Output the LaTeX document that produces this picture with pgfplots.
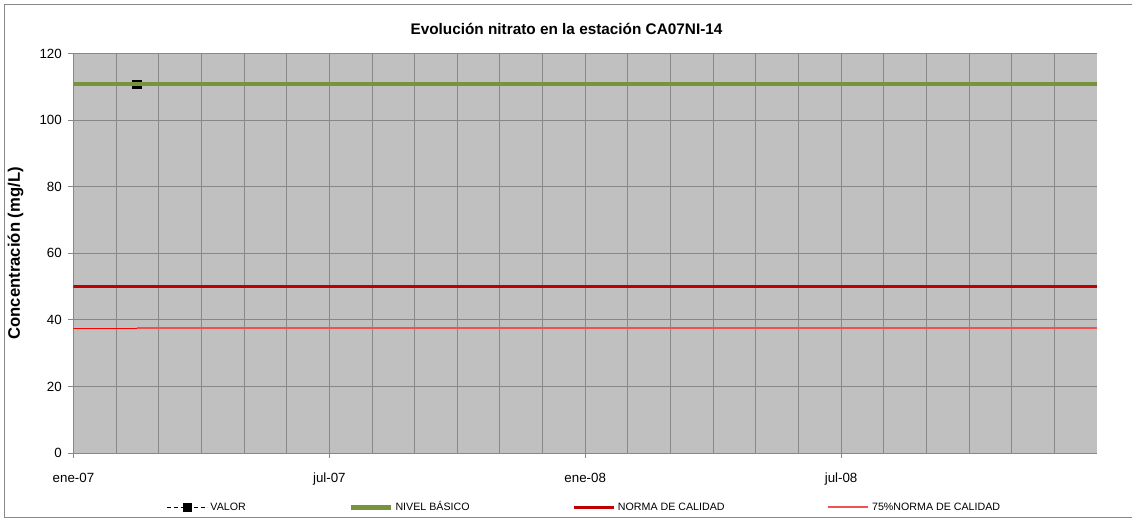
\documentclass[border=0pt]{standalone}
\usepackage{pgfplots}
\pgfplotsset{compat=1.18}
\usepackage{fontspec}
\setmainfont{Liberation Sans}

\definecolor{fondo}{HTML}{C0C0C0}
\definecolor{rejilla}{HTML}{888888}
\definecolor{verde}{HTML}{77933C}
\definecolor{rojo}{HTML}{C00000}
\definecolor{rojoclaro}{HTML}{F05050}

\begin{document}
\begin{tikzpicture}
\begin{axis}[
    name=ax,
    scale only axis,
    width=767.6pt, height=299.5pt,
    xmin=0, xmax=24, ymin=0, ymax=120,
    axis background/.style={fill=fondo},
    axis x line*=bottom, axis y line*=left,
    axis line style={rejilla, line width=0.75pt},
    xtick={0,6,12,18},
    xticklabels={ene-07,jul-07,ene-08,jul-08},
    minor xtick={1,...,23},
    ytick={0,20,...,120},
    grid=both,
    major grid style={rejilla, line width=0.75pt},
    minor grid style={rejilla, line width=0.75pt},
    tick align=outside,
    major tick length=3.75pt, minor tick length=0pt,
    tick style={rejilla, line width=0.75pt},
    tick label style={font=\fontsize{10}{12}\selectfont},
    /pgf/number format/assume math mode=true,
    xticklabel style={yshift=-7.5pt},
    yticklabel style={xshift=-1.5pt},
    clip marker paths=true,
    legend columns=4,
    legend style={at={(0.4995,0)}, anchor=center, yshift=-40.8pt,
        draw=none, fill=none, inner sep=0pt,
        font=\fontsize{8}{10}\selectfont,
        nodes={text height=6pt, text depth=1.5pt},
        /tikz/every even column/.append style={column sep=75pt}},
    legend cell align=left,
    legend image code/.code={%
        \draw[mark repeat=2, mark phase=2, #1]
            plot coordinates {(0pt,0pt) (15pt,0pt) (30pt,0pt)};},
]
    % VALOR: una sola medida
    \addplot[black, densely dashed, line width=0.9pt, mark=square*,
        mark size=3pt, mark options={solid}] coordinates {
        (1.49,110.8)
    };
    \addlegendentry{VALOR}
    \addplot[verde, line width=3.25pt] coordinates {
        (0,110.8) (24,110.8)
    };
    \addlegendentry{NIVEL BÁSICO}
    \addplot[rojo, line width=2.8pt, forget plot] coordinates {
        (0,50) (1.49,50)
    };
    \addplot[rojo, line width=2.25pt] coordinates {
        (1.49,50) (24,50)
    };
    \addlegendentry{NORMA DE CALIDAD}
    \addplot[red, line width=1pt, forget plot] coordinates {
        (0,37.5) (1.49,37.5)
    };
    \addplot[rojoclaro, line width=1.3pt,
        legend image post style={line width=1.6pt, rojoclaro}] coordinates {
        (1.49,37.5) (24,37.5)
    };
    \addlegendentry{75\%NORMA DE CALIDAD}
\end{axis}
\node[font=\bfseries\fontsize{11.5}{14}\selectfont]
    at ([xshift=369.75pt, yshift=18.3pt]ax.north west)
    {Evolución nitrato en la estación CA07NI-14};
\node[rotate=90, font=\bfseries\fontsize{12.5}{15}\selectfont]
    at ([xshift=-43.5pt]ax.west) {Concentración (mg/L)};
\pgfresetboundingbox
\path[use as bounding box] (ax.south west) ++(-55.125pt,-49.5pt) rectangle ++(849pt,389.25pt);
\draw[rejilla, line width=0.75pt] (ax.south west) ++(800pt,336pt)
    -- ++(-851.4pt,0pt) -- ++(0pt,-384.2pt) -- ++(851.4pt,0pt);
\end{tikzpicture}
\end{document}
